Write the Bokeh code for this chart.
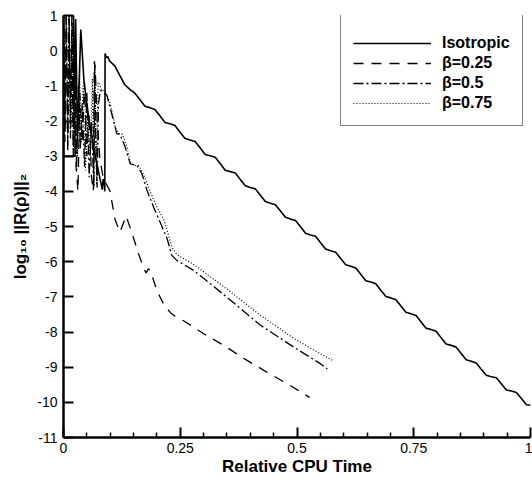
from bokeh.plotting import figure
from bokeh.models import Range1d, FixedTicker, Legend, LegendItem
from bokeh.embed import file_html
from bokeh.resources import INLINE

# ---------------- data ----------------
x_ticks = [0, 0.25, 0.5, 0.75, 1]
x_tick_labels = ["0", "0.25", "0.5", "0.75", "1"]
x_minor = [0.05, 0.1, 0.15, 0.2, 0.3, 0.35, 0.4, 0.45, 0.55, 0.6, 0.65, 0.7,
           0.8, 0.85, 0.9, 0.95]
y_ticks = [1, 0, -1, -2, -3, -4, -5, -6, -7, -8, -9, -10, -11]
y_tick_labels = ["1", "0", "-1", "-2", "-3", "-4", "-5", "-6", "-7", "-8", "-9", "-10", "-11"]

series_names = ["Isotropic", "\u03b2=0.25", "\u03b2=0.5", "\u03b2=0.75"]

iso_early_x = [0.0, 0.0, 0.025, 0.021, 0.023, 0.026, 0.030, 0.037, 0.044, 0.055,
               0.068, 0.080, 0.083, 0.085, 0.087, 0.0885, 0.089, 0.092, 0.095]
iso_early_y = [1.5, -3.0, -3.0, 1.5, -2.2, 0.9, -2.5, 0.6, -0.9, -2.0,
               -3.0, -3.75, -3.95, -3.65, -3.7, -4.0, -0.08, -0.2, -0.17]
iso_main_x = [0.099, 0.1098, 0.1205, 0.1313, 0.142, 0.1528, 0.1635, 0.1743, 0.185, 0.1958,
              0.2065, 0.2173, 0.228, 0.2388, 0.2495, 0.2603, 0.271, 0.2818, 0.2925, 0.3033,
              0.314, 0.3248, 0.3355, 0.3463, 0.357, 0.3678, 0.3785, 0.3893, 0.4, 0.4108,
              0.4215, 0.4323, 0.443, 0.4538, 0.4645, 0.4753, 0.486, 0.4968, 0.5075, 0.5183,
              0.529, 0.5398, 0.5505, 0.5613, 0.572, 0.5828, 0.5935, 0.6043, 0.615, 0.6258,
              0.6365, 0.6473, 0.658, 0.6688, 0.6795, 0.6903, 0.701, 0.7118, 0.7225, 0.7333,
              0.744, 0.7548, 0.7655, 0.7763, 0.787, 0.7978, 0.8085, 0.8193, 0.83, 0.8408,
              0.8515, 0.8623, 0.873, 0.8838, 0.8945, 0.9053, 0.916, 0.9268, 0.9375, 0.9483,
              0.959, 0.9698, 0.9805, 0.9913, 1.0]
iso_main_y = [-0.30, -0.43, -0.70, -0.97, -1.10, -1.21, -1.39, -1.58, -1.62, -1.67,
              -1.85, -2.04, -2.08, -2.13, -2.32, -2.50, -2.54, -2.58, -2.76, -2.95,
              -2.99, -3.03, -3.21, -3.40, -3.44, -3.48, -3.66, -3.84, -3.89, -3.93,
              -4.11, -4.29, -4.34, -4.38, -4.56, -4.74, -4.79, -4.83, -5.01, -5.19,
              -5.24, -5.28, -5.46, -5.64, -5.69, -5.73, -5.91, -6.09, -6.13, -6.18,
              -6.36, -6.54, -6.58, -6.63, -6.81, -6.99, -7.03, -7.08, -7.26, -7.44,
              -7.48, -7.53, -7.71, -7.89, -7.93, -7.98, -8.16, -8.34, -8.38, -8.43,
              -8.61, -8.79, -8.83, -8.88, -9.06, -9.23, -9.27, -9.30, -9.47, -9.65,
              -9.68, -9.72, -9.89, -10.07, -10.08]

b25_x = [0.0, 0.003, 0.006, 0.009, 0.012, 0.015, 0.018, 0.021, 0.024, 0.027,
         0.031, 0.035, 0.040, 0.045, 0.050, 0.055, 0.060, 0.064, 0.066, 0.068,
         0.072, 0.078, 0.085, 0.092, 0.100, 0.105, 0.111, 0.121, 0.134, 0.147,
         0.160, 0.172, 0.177, 0.182, 0.187, 0.200, 0.214, 0.229, 0.243, 0.257,
         0.279, 0.300, 0.343, 0.386, 0.429, 0.489, 0.527]
b25_y = [1.2, -2.6, 1.2, -2.9, 0.9, -2.2, 1.2, -2.8, 0.4, -3.3,
         -4.0, -1.2, -2.6, -0.9, -3.0, -1.8, -3.6, -4.0, -0.3, -0.5,
         -2.0, -3.1, -3.6, -3.8, -4.0, -4.4, -4.83, -5.16, -4.7, -5.2,
         -5.75, -6.2, -6.32, -6.2, -6.3, -6.82, -7.2, -7.45, -7.6, -7.68,
         -7.86, -8.05, -8.38, -8.75, -9.09, -9.55, -9.86]

b50_x = [0.0, 0.003, 0.006, 0.009, 0.012, 0.015, 0.018, 0.021, 0.024, 0.028,
         0.032, 0.036, 0.040, 0.045, 0.050, 0.055, 0.060, 0.065, 0.067, 0.069,
         0.072, 0.075, 0.079, 0.086, 0.093, 0.107, 0.114, 0.121, 0.132, 0.143,
         0.157, 0.168, 0.179, 0.193, 0.207, 0.222, 0.232, 0.243, 0.279, 0.350,
         0.421, 0.493, 0.550, 0.565]
b50_y = [1.2, -2.3, 1.2, -2.7, 1.0, -2.5, 0.6, -3.0, 0.2, -3.4,
         -1.0, -2.8, -1.5, -3.3, -1.2, -3.6, -2.0, -3.9, -0.4, -2.5,
         -3.9, -1.5, -1.13, -1.2, -1.27, -1.99, -2.36, -2.38, -2.74, -3.22,
         -3.26, -3.5, -3.98, -4.45, -4.88, -5.35, -5.82, -5.97, -6.25, -7.01,
         -7.8, -8.43, -8.9, -9.05]

b75_x = [0.0, 0.003, 0.006, 0.009, 0.012, 0.016, 0.019, 0.022, 0.026, 0.030,
         0.034, 0.038, 0.042, 0.047, 0.052, 0.057, 0.062, 0.065, 0.0665, 0.069,
         0.071, 0.074, 0.077, 0.082, 0.088, 0.100, 0.111, 0.118, 0.126, 0.136,
         0.143, 0.150, 0.161, 0.171, 0.186, 0.200, 0.214, 0.222, 0.232, 0.243,
         0.279, 0.350, 0.421, 0.493, 0.550, 0.575]
b75_y = [1.2, -2.0, 1.2, -2.5, 1.2, -2.2, 0.8, -2.9, 0.3, -3.0,
         -0.5, -2.6, -1.0, -3.4, -1.8, -3.0, -0.8, -3.9, -0.3, -1.8,
         -3.8, -0.9, -0.95, -1.15, -1.12, -1.5, -2.18, -2.36, -2.38, -2.74,
         -3.17, -3.26, -3.27, -3.5, -4.02, -4.45, -4.78, -5.11, -5.59, -5.8,
         -6.08, -6.78, -7.52, -8.18, -8.62, -8.8]

iso_x = iso_early_x + iso_main_x
iso_y = iso_early_y + iso_main_y

# ---------------- figure ----------------
FONT = "Liberation Sans"
p = figure(width=532, height=481, output_backend="svg", toolbar_location=None,
           x_range=Range1d(0, 1), y_range=Range1d(-11, 1),
           min_border_left=63, min_border_right=2, min_border_top=15, min_border_bottom=44)
p.outline_line_color = None
p.grid.visible = False
p.background_fill_color = "white"
p.border_fill_color = "white"

p.xaxis.ticker = FixedTicker(ticks=x_ticks, minor_ticks=x_minor)
p.xaxis.major_label_overrides = dict(zip(x_ticks, x_tick_labels))
p.yaxis.ticker = FixedTicker(ticks=y_ticks, minor_ticks=[])
p.yaxis.major_label_overrides = dict(zip(y_ticks, y_tick_labels))

p.xaxis.axis_label = "Relative CPU Time"
p.yaxis.axis_label = "log\u2081\u2080 ||R(\u03c1)||\u2082"

for ax in (p.xaxis[0], p.yaxis[0]):
    ax.axis_line_width = 2.5
    ax.axis_line_color = "black"
    ax.major_tick_in = 10
    ax.major_tick_out = 0
    ax.major_tick_line_width = 2
    ax.major_tick_line_color = "black"
    ax.minor_tick_in = 5
    ax.minor_tick_out = 0
    ax.minor_tick_line_width = 1.5
    ax.minor_tick_line_color = "black"
    ax.major_label_text_font = FONT
    ax.major_label_text_font_size = "14px"
    ax.major_label_text_color = "black"
    ax.axis_label_text_font = FONT
    ax.axis_label_text_font_style = "bold"
    ax.axis_label_text_font_size = "17px"
    ax.axis_label_text_color = "black"

p.xaxis.major_label_standoff = 5
p.xaxis.axis_label_standoff = 1
p.yaxis.major_label_standoff = 6
p.yaxis.axis_label_standoff = 4

r_iso = p.line(iso_x, iso_y, line_color="black", line_width=1.6)
r25 = p.line(b25_x, b25_y, line_color="black", line_width=1.3, line_dash="10 8")
r50 = p.line(b50_x, b50_y, line_color="black", line_width=1.3, line_dash="10 3 2 3")
r75 = p.line(b75_x, b75_y, line_color="black", line_width=1.2, line_dash="1 2")

legend = Legend(items=[LegendItem(label=n, renderers=[r])
                       for n, r in zip(series_names, [r_iso, r25, r50, r75])],
                location=(277, 311))
legend.margin = 0
legend.padding = 12
legend.spacing = 0
legend.title = " "
legend.title_text_font_size = "8px"
legend.title_standoff = 2
legend.glyph_width = 78
legend.glyph_height = 20
legend.label_height = 20
legend.label_standoff = 11
legend.label_text_font = FONT
legend.label_text_font_style = "bold"
legend.label_text_font_size = "16px"
legend.label_text_color = "black"
legend.border_line_color = "black"
legend.border_line_width = 1
legend.background_fill_color = "white"
legend.background_fill_alpha = 1
p.add_layout(legend)

open("out.html", "w").write(file_html(p, INLINE))
